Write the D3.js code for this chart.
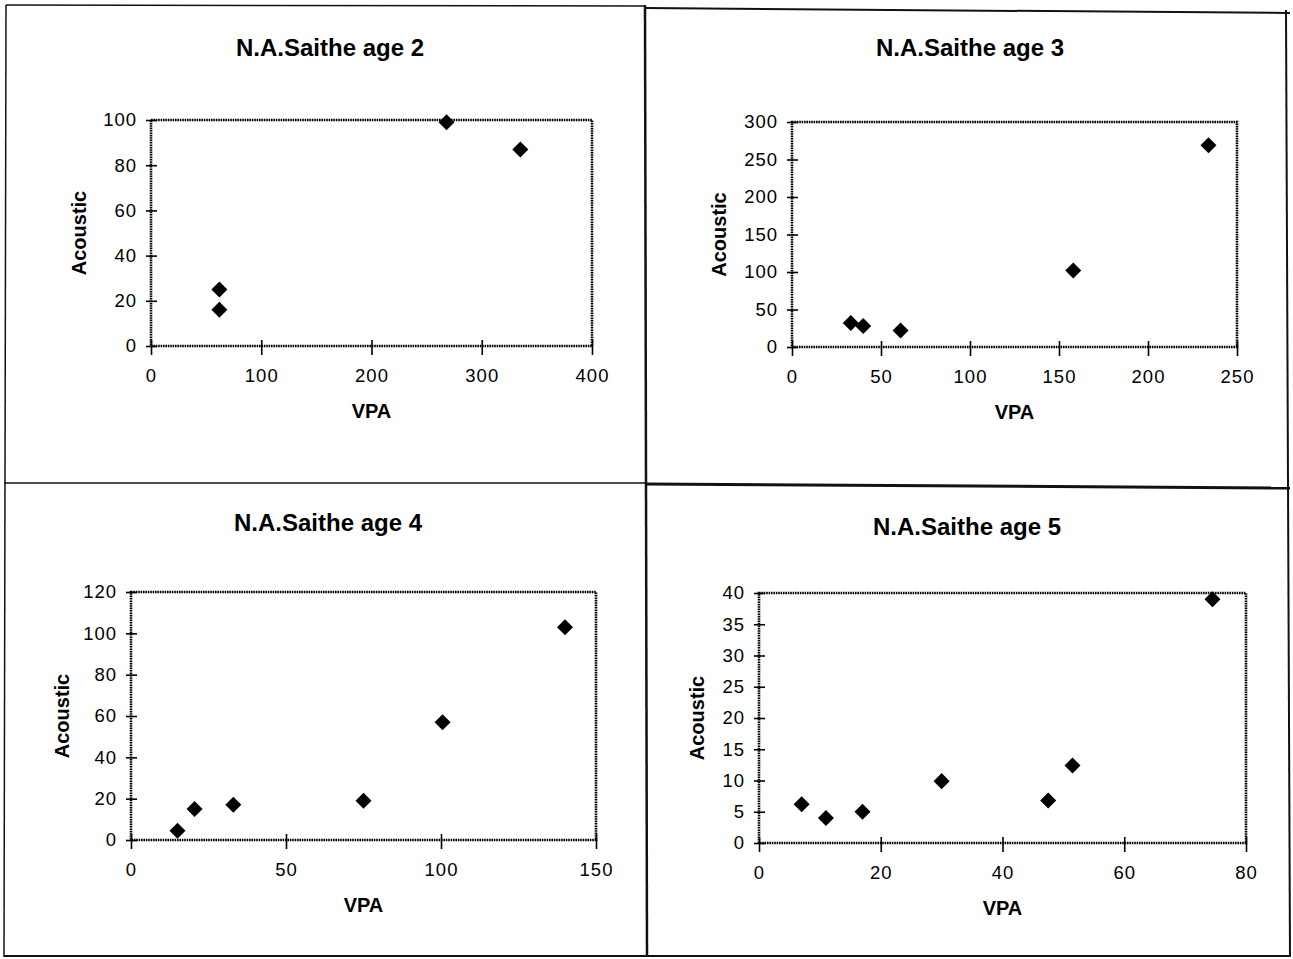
<!DOCTYPE html>
<html>
<head>
<meta charset="utf-8">
<script src="https://cdn.jsdelivr.net/npm/d3@7"></script>
<style>
body { margin: 0; background: #fff; }
svg text { font-family: "Liberation Sans", Arial, sans-serif; fill: #000; }
.tick text { font-size: 18.5px; letter-spacing: 1px; }
.title { font-size: 24px; font-weight: bold; }
.axlab { font-size: 20px; font-weight: bold; }
</style>
</head>
<body>
<script>
// values
const titles = ["N.A.Saithe age 2", "N.A.Saithe age 3", "N.A.Saithe age 4", "N.A.Saithe age 5"];

const age2VPA      = [62, 62, 268, 335];
const age2Acoustic = [25, 16, 99, 87];
const age3VPA      = [33, 40, 61, 158, 234];
const age3Acoustic = [32, 28, 22, 102, 269];
const age4VPA      = [15, 20.5, 33, 75, 100.5, 140];
const age4Acoustic = [4.5, 15, 17, 19, 57, 103];
const age5VPA      = [7, 11, 17, 30, 47.5, 51.5, 74.5];
const age5Acoustic = [6.2, 4, 5, 9.9, 6.8, 12.4, 39];

const age2XTicks = [0, 100, 200, 300, 400];
const age2YTicks = [0, 20, 40, 60, 80, 100];
const age3XTicks = [0, 50, 100, 150, 200, 250];
const age3YTicks = [0, 50, 100, 150, 200, 250, 300];
const age4XTicks = [0, 50, 100, 150];
const age4YTicks = [0, 20, 40, 60, 80, 100, 120];
const age5XTicks = [0, 20, 40, 60, 80];
const age5YTicks = [0, 5, 10, 15, 20, 25, 30, 35, 40];

const xLabel = "VPA";
const yLabel = "Acoustic";

const svg = d3.select("body").append("svg")
    .attr("width", 1293)
    .attr("height", 959);

// panel frames (scanned page, so slightly crooked)
const frame = svg.append("g").attr("stroke", "#111").attr("fill", "none");
frame.append("line").attr("x1", 6).attr("y1", 5).attr("x2", 646).attr("y2", 6).attr("stroke-width", 1.5);
frame.append("line").attr("x1", 646).attr("y1", 8).attr("x2", 1290).attr("y2", 13).attr("stroke-width", 2);
frame.append("line").attr("x1", 6).attr("y1", 5).attr("x2", 4).attr("y2", 957).attr("stroke-width", 1.5);
frame.append("line").attr("x1", 1286).attr("y1", 10).attr("x2", 1290).attr("y2", 957).attr("stroke-width", 2);
frame.append("line").attr("x1", 4).attr("y1", 956).attr("x2", 1290).attr("y2", 956).attr("stroke-width", 2);
frame.append("line").attr("x1", 645).attr("y1", 5).attr("x2", 647).attr("y2", 957).attr("stroke-width", 2.5);
frame.append("line").attr("x1", 4).attr("y1", 483).attr("x2", 646).attr("y2", 483).attr("stroke-width", 1.5);
frame.append("line").attr("x1", 646).attr("y1", 484).attr("x2", 1290).attr("y2", 488).attr("stroke-width", 3);

const panels = [
  {title: titles[0], xs: age2VPA, ys: age2Acoustic, xTicks: age2XTicks, yTicks: age2YTicks,
   left: 151, right: 592, top: 120, bottom: 346, titleX: 330, titleY: 56, ylabX: 79},
  {title: titles[1], xs: age3VPA, ys: age3Acoustic, xTicks: age3XTicks, yTicks: age3YTicks,
   left: 792, right: 1237, top: 122, bottom: 347, titleX: 970, titleY: 56, ylabX: 719},
  {title: titles[2], xs: age4VPA, ys: age4Acoustic, xTicks: age4XTicks, yTicks: age4YTicks,
   left: 131, right: 596, top: 592, bottom: 840, titleX: 328, titleY: 531, ylabX: 62},
  {title: titles[3], xs: age5VPA, ys: age5Acoustic, xTicks: age5XTicks, yTicks: age5YTicks,
   left: 759, right: 1246, top: 593, bottom: 843, titleX: 967, titleY: 535, ylabX: 697}
];

const diamond = d3.symbol().type(d3.symbolSquare).size(128);

panels.forEach(function(p) {
  const x = d3.scaleLinear().domain([0, d3.max(p.xTicks)]).range([p.left, p.right]);
  const y = d3.scaleLinear().domain([0, d3.max(p.yTicks)]).range([p.bottom, p.top]);
  const g = svg.append("g");

  // plot area border - dotted like the scan
  g.append("rect")
    .attr("x", p.left).attr("y", p.top)
    .attr("width", p.right - p.left).attr("height", p.bottom - p.top)
    .attr("fill", "none")
    .attr("stroke", "#000")
    .attr("stroke-width", 2.6)
    .attr("stroke-dasharray", "1.6,0.8");

  // x axis
  g.append("g")
    .attr("transform", `translate(0,${p.bottom})`)
    .call(d3.axisBottom(x).tickValues(p.xTicks).tickSize(9).tickPadding(14))
    .call(a => a.select(".domain").remove())
    .call(a => a.selectAll(".tick line").attr("y1", -6).attr("stroke", "#000").attr("stroke-width", 1.6))
    .call(a => a.selectAll(".tick text").attr("font-size", null));

  // y axis
  g.append("g")
    .attr("transform", `translate(${p.left},0)`)
    .call(d3.axisLeft(y).tickValues(p.yTicks).tickSize(5).tickPadding(9))
    .call(a => a.select(".domain").remove())
    .call(a => a.selectAll(".tick line").attr("x1", 6).attr("stroke", "#000").attr("stroke-width", 1.6))
    .call(a => a.selectAll(".tick text").attr("font-size", null));

  // points
  g.selectAll("path.pt")
    .data(p.xs)
    .enter()
    .append("path")
    .attr("class", "pt")
    .attr("d", diamond)
    .attr("transform", (d, i) => `translate(${x(d)},${y(p.ys[i])}) rotate(45)`)
    .attr("fill", "#000");

  // titles
  g.append("text").attr("class", "title")
    .attr("x", p.titleX).attr("y", p.titleY)
    .attr("text-anchor", "middle")
    .text(p.title);

  g.append("text").attr("class", "axlab")
    .attr("x", (p.left + p.right) / 2).attr("y", p.bottom + 72)
    .attr("text-anchor", "middle")
    .text(xLabel);

  g.append("text").attr("class", "axlab")
    .attr("transform", `translate(${p.ylabX + 7},${(p.top + p.bottom) / 2}) rotate(-90)`)
    .attr("text-anchor", "middle")
    .text(yLabel);
});
</script>
</body>
</html>
